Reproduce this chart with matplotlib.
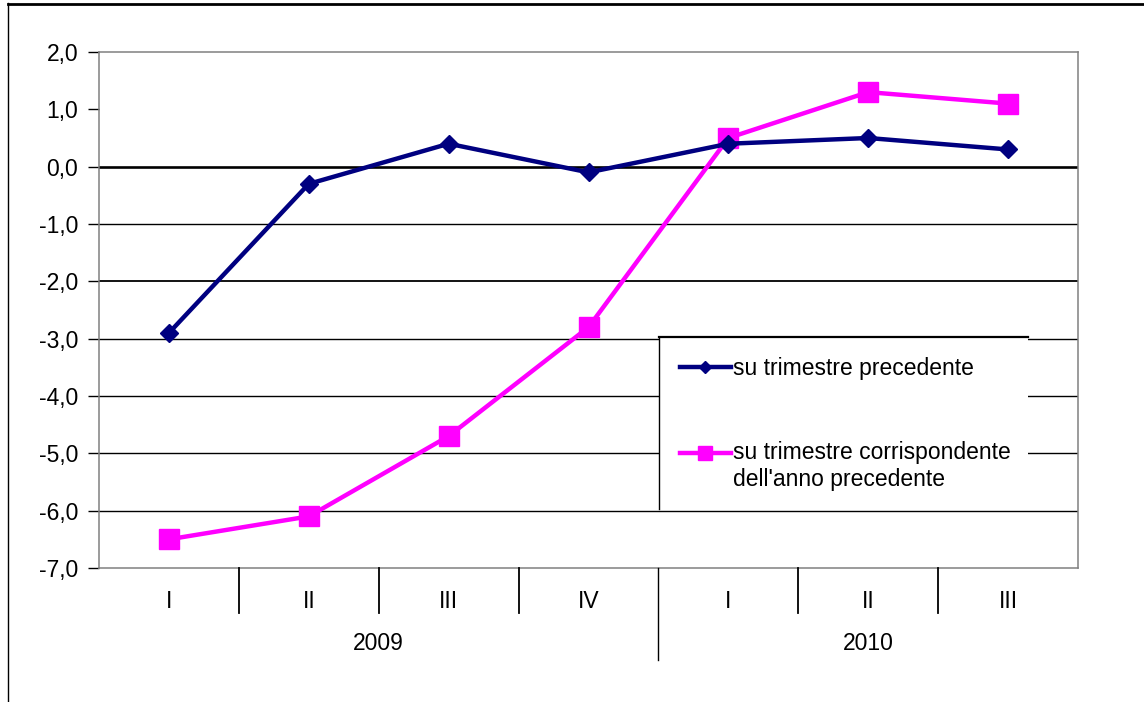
import numpy as np
import matplotlib
matplotlib.use("Agg")
import matplotlib.pyplot as plt
from matplotlib.lines import Line2D
from matplotlib.patches import Rectangle
from matplotlib.legend_handler import HandlerLine2D

# Quarterly change (%), two comparisons
quarters = ["I", "II", "III", "IV", "I", "II", "III"]
years = ["2009", "2010"]
quarters_per_year = [4, 3]
on_previous_quarter = [-2.9, -0.3, 0.4, -0.1, 0.4, 0.5, 0.3]
on_same_quarter_prev_year = [-6.5, -6.1, -4.7, -2.8, 0.5, 1.3, 1.1]
series_labels = ["su trimestre precedente",
                 "su trimestre corrispondente\ndell'anno precedente"]
y_ticks = [-7, -6, -5, -4, -3, -2, -1, 0, 1, 2]

plt.rcParams["font.family"] = ["Liberation Sans", "DejaVu Sans"]
FS = 16.5


class FirstLineHandler(HandlerLine2D):
    """Line handle aligned with the first line of a two-line label."""

    def __init__(self, lift=0.0, **kw):
        super().__init__(**kw)
        self.lift = lift

    def create_artists(self, legend, orig_handle, xdescent, ydescent,
                       width, height, fontsize, trans):
        artists = super().create_artists(legend, orig_handle, xdescent,
                                         ydescent, width, height, fontsize,
                                         trans)
        for a in artists:
            a.set_ydata(np.asarray(a.get_ydata()) + self.lift * fontsize)
        return artists


W, H = 1144, 702
fig = plt.figure(figsize=(W / 100, H / 100), dpi=100)
ax = fig.add_axes([99 / W, 134 / H, 979 / W, 516 / H])

x = np.arange(len(quarters))
ax.set_xlim(-0.5, len(quarters) - 0.5)
ax.set_ylim(min(y_ticks), max(y_ticks))

# horizontal rules
for yv in y_ticks:
    if yv >= 1 or yv == min(y_ticks):
        continue
    lw = 1.0
    if yv == 0:
        lw = 1.9
    elif yv == -2:
        lw = 1.3
    ax.axhline(yv, color="black", lw=lw, zorder=1)

for s in ax.spines.values():
    s.set_color("#808080")
    s.set_linewidth(1.1)

ax.set_yticks(y_ticks)
ax.set_yticklabels([f"{v:.1f}".replace(".", ",") for v in y_ticks], fontsize=FS)
ax.tick_params(axis="y", length=8, width=1, color="black", pad=7)

ax.set_xticks(x)
ax.set_xticklabels(quarters, fontsize=FS)
ax.tick_params(axis="x", length=0, pad=16)

# category dividers below the axis
xt = ax.get_xaxis_transform()
bounds = np.cumsum(quarters_per_year)
for b in range(1, len(quarters)):
    long_tick = b in bounds
    ax.plot([b - 0.5, b - 0.5], [0, -0.178 if long_tick else -0.087],
            transform=xt, color="black", lw=1.3 if not long_tick else 1.0,
            clip_on=False, zorder=3)

start = 0
for yr, n in zip(years, quarters_per_year):
    centre = np.mean(x[start:start + n])
    ax.text(centre, -0.147, yr, transform=xt, ha="center", va="center",
            fontsize=FS)
    start += n

# legend panel
ax.add_patch(Rectangle((0.572, 0.114), 0.377, 0.334, transform=ax.transAxes,
                       facecolor="white", edgecolor="none", zorder=2))
ax.plot([0.572, 0.949], [0.448, 0.448], transform=ax.transAxes,
        color="black", lw=1.6, zorder=2.5)
ax.plot([0.572, 0.572], [0.448, 0.114], transform=ax.transAxes,
        color="black", lw=1.0, zorder=2.5)

ax.plot(x, on_previous_quarter, color="#000080", lw=3.2, marker="D",
        markersize=9, zorder=5, label=series_labels[0])
ax.plot(x, on_same_quarter_prev_year, color="#FF00FF", lw=3.2,
        marker="s", markersize=14, zorder=4, label=series_labels[1])

h1 = Line2D([], [], color="#000080", lw=3.2, marker="D", markersize=6)
h2 = Line2D([], [], color="#FF00FF", lw=3.2, marker="s", markersize=10)
leg = ax.legend([h1, h2], series_labels, loc="upper left",
                bbox_to_anchor=(0.572, 0.448), frameon=False, fontsize=FS,
                handlelength=2.25, handletextpad=0.1, borderpad=0.9,
                borderaxespad=0, labelspacing=2.65,
                handler_map={h2: FirstLineHandler(lift=0.59)})
leg.set_zorder(6)

# outer frame
fig.add_artist(Line2D([8 / W, 8 / W], [0, 1 - 3 / H], color="black", lw=1.0))
fig.add_artist(Line2D([8 / W, 1], [1 - 3.5 / H, 1 - 3.5 / H], color="black",
                      lw=2.0))

fig.savefig("out.png", dpi=100, facecolor="white")
